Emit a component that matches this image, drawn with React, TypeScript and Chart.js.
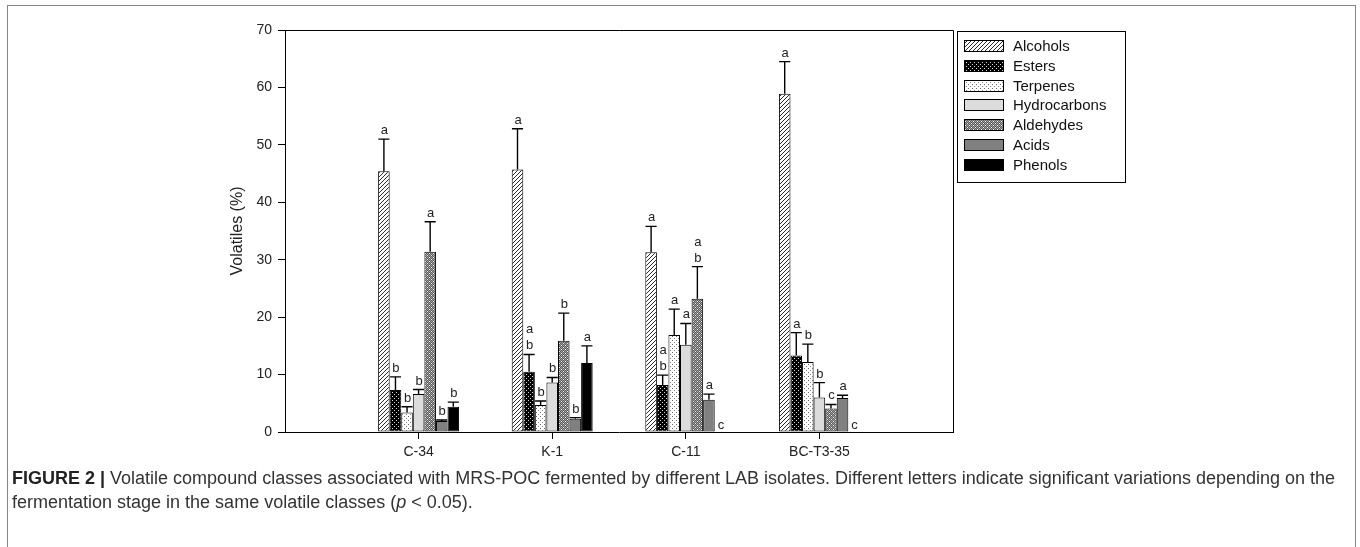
import React, { useEffect, useRef } from 'react';
import { Chart, registerables } from 'chart.js';

Chart.register(...registerables);

// ---------------- DATA ----------------
const categories = ['C-34', 'K-1', 'C-11', 'BC-T3-35'];
const seriesNames = ['Alcohols', 'Esters', 'Terpenes', 'Hydrocarbons', 'Aldehydes', 'Acids', 'Phenols'];

const alcohols = [45.4, 45.7, 31.3, 58.9];
const esters = [7.3, 10.5, 8.2, 13.3];
const terpenes = [3.4, 4.7, 16.9, 12.2];
const hydrocarbons = [6.6, 8.6, 15.2, 6.0];
const aldehydes = [31.4, 15.9, 23.2, 4.1];
const acids = [1.9, 2.3, 5.6, 5.9];
const phenols = [4.4, 12.0, 0, 0];

const alcoholsErr = [5.6, 7.1, 4.5, 5.6];
const estersErr = [2.3, 3.0, 1.7, 4.0];
const terpenesErr = [1.0, 0.7, 4.5, 3.1];
const hydrocarbonsErr = [0.8, 0.9, 3.7, 2.6];
const aldehydesErr = [5.2, 4.8, 5.6, 0.7];
const acidsErr = [0.2, 0.2, 1.0, 0.5];
const phenolsErr = [0.8, 3.0, 0, 0];

// letters: multiple characters are stacked (first on top)
const alcoholsLetters = ['a', 'a', 'a', 'a'];
const estersLetters = ['b', 'ab', 'ab', 'a'];
const terpenesLetters = ['b', 'b', 'a', 'b'];
const hydrocarbonsLetters = ['b', 'b', 'a', 'b'];
const aldehydesLetters = ['a', 'b', 'ab', 'c'];
const acidsLetters = ['b', 'b', 'a', 'a'];
const phenolsLetters = ['b', 'a', 'c', 'c'];

const yTicks = [0, 10, 20, 30, 40, 50, 60, 70];
const yTitle = 'Volatiles (%)';

const seriesValues = [alcohols, esters, terpenes, hydrocarbons, aldehydes, acids, phenols];
const seriesErrors = [alcoholsErr, estersErr, terpenesErr, hydrocarbonsErr, aldehydesErr, acidsErr, phenolsErr];
const seriesLetters = [alcoholsLetters, estersLetters, terpenesLetters, hydrocarbonsLetters, aldehydesLetters, acidsLetters, phenolsLetters];

const FONT = "'Liberation Sans', Arial, Helvetica, sans-serif";

function tile(w: number, h: number, draw: (g: CanvasRenderingContext2D) => void) {
  const c = document.createElement('canvas');
  c.width = w;
  c.height = h;
  const g = c.getContext('2d') as CanvasRenderingContext2D;
  draw(g);
  return c;
}

function px(g: CanvasRenderingContext2D, x: number, y: number, col: string) {
  g.fillStyle = col;
  g.fillRect(x, y, 1, 1);
}

function makeFills(ctx: CanvasRenderingContext2D): (CanvasPattern | string)[] {
  const alc = tile(4, 4, (g) => {
    g.fillStyle = '#fff';
    g.fillRect(0, 0, 4, 4);
    px(g, 3, 0, '#2a2a2a');
    px(g, 2, 1, '#2a2a2a');
    px(g, 1, 2, '#2a2a2a');
    px(g, 0, 3, '#2a2a2a');
  });
  const est = tile(4, 4, (g) => {
    g.fillStyle = '#000';
    g.fillRect(0, 0, 4, 4);
    px(g, 0, 0, '#d8d8d8');
    px(g, 2, 2, '#d8d8d8');
  });
  const ter = tile(4, 4, (g) => {
    g.fillStyle = '#fff';
    g.fillRect(0, 0, 4, 4);
    px(g, 0, 0, '#666');
    px(g, 2, 2, '#888');
  });
  const ald = tile(4, 4, (g) => {
    for (let y = 0; y < 4; y++) {
      for (let x = 0; x < 4; x++) {
        px(g, x, y, (x + y) % 2 === 0 ? '#a0a0a0' : '#5a5a5a');
      }
    }
    px(g, 1, 1, '#fff');
    px(g, 3, 3, '#eee');
  });
  return [
    ctx.createPattern(alc, 'repeat') as CanvasPattern,
    ctx.createPattern(est, 'repeat') as CanvasPattern,
    ctx.createPattern(ter, 'repeat') as CanvasPattern,
    '#dcdcdc',
    ctx.createPattern(ald, 'repeat') as CanvasPattern,
    '#808080',
    '#000000',
  ];
}

export default function App() {
  const canvasRef = useRef<HTMLCanvasElement | null>(null);

  useEffect(() => {
    const canvas = canvasRef.current;
    if (!canvas) return;
    const ctx0 = canvas.getContext('2d') as CanvasRenderingContext2D;
    const fills = makeFills(ctx0);

    const overlay = {
      id: 'overlay',
      afterDatasetsDraw(chart: any) {
        const ctx = chart.ctx as CanvasRenderingContext2D;
        const yScale = chart.scales.y;
        const area = chart.chartArea;
        ctx.save();
        // error bars + letters
        chart.data.datasets.forEach((ds: any, i: number) => {
          const meta = chart.getDatasetMeta(i);
          meta.data.forEach((el: any, j: number) => {
            const v = seriesValues[i][j];
            const e = seriesErrors[i][j];
            const x = el.x;
            const w = el.width;
            const yTop = yScale.getPixelForValue(v);
            let capY = yTop;
            if (e > 0) {
              capY = yScale.getPixelForValue(v + e);
              ctx.strokeStyle = '#000';
              ctx.lineWidth = 1.4;
              ctx.beginPath();
              ctx.moveTo(x, yTop);
              ctx.lineTo(x, capY);
              ctx.moveTo(x - w * 0.48, capY);
              ctx.lineTo(x + w * 0.48, capY);
              ctx.stroke();
            }
            const letters = seriesLetters[i][j].split('');
            ctx.fillStyle = '#222';
            ctx.font = `13px ${FONT}`;
            ctx.textAlign = 'center';
            ctx.textBaseline = 'alphabetic';
            let base = capY - (e > 0 ? 5 : 3);
            for (let k = letters.length - 1; k >= 0; k--) {
              ctx.fillText(letters[k], x + 0.5, base);
              base -= 16;
            }
          });
        });
        // top and right frame of the plot
        ctx.strokeStyle = '#000';
        ctx.lineWidth = 1;
        ctx.beginPath();
        ctx.moveTo(Math.round(area.left), Math.round(area.top) + 0.5);
        ctx.lineTo(Math.round(area.right) + 0.5, Math.round(area.top) + 0.5);
        ctx.lineTo(Math.round(area.right) + 0.5, Math.round(area.bottom) + 0.5);
        ctx.stroke();

        // legend box
        const lx = Math.round(area.right) + 4;
        const ly = Math.round(area.top) + 1;
        const lw = 168;
        const lh = 151;
        ctx.strokeRect(lx + 0.5, ly + 0.5, lw, lh);
        ctx.font = `15px ${FONT}`;
        ctx.textAlign = 'left';
        ctx.textBaseline = 'middle';
        seriesNames.forEach((name, i) => {
          const cy = ly + 15 + i * 19.75;
          const sx = lx + 7;
          ctx.fillStyle = fills[i] as any;
          ctx.fillRect(sx, Math.round(cy - 6), 40, 12);
          ctx.strokeStyle = '#000';
          ctx.lineWidth = 1;
          ctx.strokeRect(sx + 0.5, Math.round(cy - 6) + 0.5, 39, 11);
          ctx.fillStyle = '#111';
          ctx.fillText(name, lx + 56, cy + 1);
        });
        ctx.restore();
      },
    };

    const chart = new Chart(canvas, {
      type: 'bar',
      data: {
        labels: ['', ...categories, ''],
        datasets: seriesNames.map((name, i) => ({
          label: name,
          data: seriesValues[i].map((v, j) => ({ x: categories[j], y: v })),
          backgroundColor: fills[i] as any,
          borderColor: '#000',
          borderWidth: 1,
          borderSkipped: false,
          categoryPercentage: 0.606,
          barPercentage: 1,
        })),
      },
      options: {
        animation: false,
        responsive: false,
        devicePixelRatio: 1,
        layout: { padding: { left: 224, right: 407, top: 30, bottom: 8 } },
        plugins: { legend: { display: false }, tooltip: { enabled: false } },
        scales: {
          x: {
            offset: false,
            grid: {
              offset: false,
              drawOnChartArea: false,
              drawTicks: true,
              tickLength: 7,
              tickColor: (c: any) => (c.index === 0 || c.index === categories.length + 1 ? 'rgba(0,0,0,0)' : '#000'),
            },
            border: { display: true, color: '#000', width: 1 },
            ticks: {
              color: '#222',
              font: { family: FONT, size: 14 },
              padding: 5,
              autoSkip: false,
              maxRotation: 0,
            },
            afterFit: (s: any) => {
              s.height = 30;
            },
          },
          y: {
            min: 0,
            max: 70,
            afterBuildTicks: (s: any) => {
              s.ticks = yTicks.map((v) => ({ value: v }));
            },
            grid: { drawOnChartArea: false, drawTicks: true, tickLength: 7, tickColor: '#000' },
            border: { display: true, color: '#000', width: 1 },
            ticks: { color: '#222', font: { family: FONT, size: 14 }, padding: 6 },
            title: {
              display: true,
              text: yTitle,
              color: '#222',
              font: { family: FONT, size: 16 },
              padding: { top: 4, bottom: 4 },
            },
            afterFit: (s: any) => {
              s.width = 61;
            },
          },
        },
      },
      plugins: [overlay],
    });

    return () => chart.destroy();
  }, []);

  return (
    <div style={{ position: 'fixed', left: 0, top: 0, width: 1360, height: 547, background: '#fff', overflow: 'hidden' }}>
      <div
        style={{
          position: 'absolute',
          left: 7,
          top: 5,
          width: 1347,
          height: 600,
          border: '1px solid #868686',
        }}
      />
      <canvas
        ref={canvasRef}
        width={1360}
        height={470}
        style={{ position: 'absolute', left: 0, top: 0, width: 1360, height: 470 }}
      />
      <div
        style={{
          position: 'absolute',
          left: 12,
          top: 466,
          width: 1345,
          fontFamily: FONT,
          fontSize: 18,
          lineHeight: '24px',
          color: '#333',
          whiteSpace: 'nowrap',
        }}
      >
        <b style={{ color: '#222' }}>FIGURE 2 |</b> Volatile compound classes associated with MRS-POC fermented by different LAB isolates. Different letters indicate significant variations depending on the
        <br />
        fermentation stage in the same volatile classes (<i>p</i> &lt; 0.05).
      </div>
    </div>
  );
}
